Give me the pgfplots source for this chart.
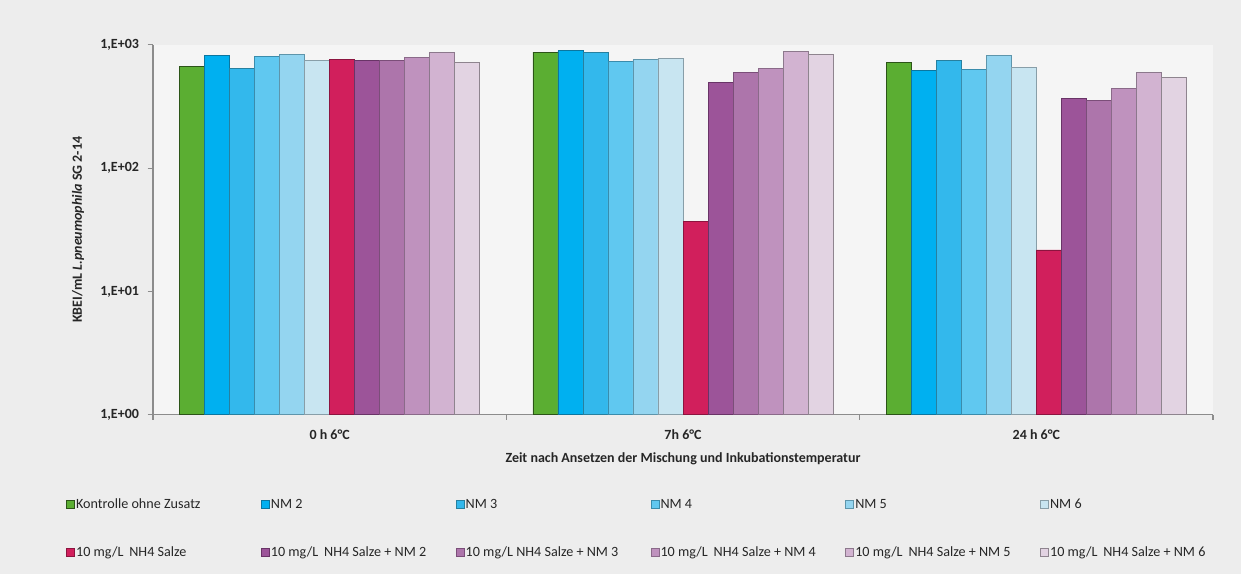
\documentclass[border=0pt]{standalone}
\usepackage{fontspec}
\setmainfont{Carlito}
\usepackage{pgfplots}
\pgfplotsset{compat=1.18}

% page and plot area backgrounds
\definecolor{bgout}{HTML}{EDEDED}
\definecolor{bgplot}{HTML}{F5F5F5}
\definecolor{axgray}{HTML}{8C8C8C}
% series colours: fill / edge
\definecolor{f1}{HTML}{5BAE32}\definecolor{e1}{HTML}{2C5418}
\definecolor{f2}{HTML}{00B0F0}\definecolor{e2}{HTML}{0B76A0}
\definecolor{f3}{HTML}{33B8EC}\definecolor{e3}{HTML}{27809F}
\definecolor{f4}{HTML}{60C8F0}\definecolor{e4}{HTML}{3A8CAC}
\definecolor{f5}{HTML}{94D5F0}\definecolor{e5}{HTML}{5E95AB}
\definecolor{f6}{HTML}{C8E5F1}\definecolor{e6}{HTML}{889EA8}
\definecolor{f7}{HTML}{D11F5C}\definecolor{e7}{HTML}{8C143F}
\definecolor{f8}{HTML}{9C5499}\definecolor{e8}{HTML}{693467}
\definecolor{f9}{HTML}{AD75AB}\definecolor{e9}{HTML}{7B4E79}
\definecolor{f10}{HTML}{BF92BE}\definecolor{e10}{HTML}{8A6A89}
\definecolor{f11}{HTML}{D2B3D1}\definecolor{e11}{HTML}{8C788C}
\definecolor{f12}{HTML}{E2D3E2}\definecolor{e12}{HTML}{8E848E}

\pgfplotsset{
  sq/.style n args={2}{fill=#1, draw=#2, line width=0.6pt,
    legend image code/.code={\draw[fill=#1,draw=#2,line width=0.5pt] (0pt,-3pt) rectangle (6pt,3pt);}},
}
\newcommand{\legtext}[1]{\addlegendentry{\makebox[137.6pt][l]{#1}}}
\newcommand{\gap}{\kern2pt}

\begin{document}
\begin{tikzpicture}[x=1pt,y=1pt]
\useasboundingbox (0,0) rectangle (930.75,430.5);
\fill[bgout] (0,0) rectangle (930.75,430.5);
\begin{axis}[
  at={(114.75pt,119.5pt)}, anchor=south west,
  scale only axis, width=795pt, height=277.3pt,
  ymode=log, ymin=1, ymax=1000,
  xmin=-0.5, xmax=2.5,
  ybar=0pt, bar width=0.0708,
  axis background/.style={fill=bgplot},
  axis x line=bottom, axis y line=left,
  axis line style={draw=axgray, line width=0.8pt, -},
  ytick={1,10,100,1000},
  yticklabels={{1,E+00},{1,E+01},{1,E+02},{1,E+03}},
  ytick style={draw=axgray, line width=0.8pt},
  yminorticks=false,
  tick align=outside, major tick length=4pt,
  xtick={0,1,2},
  xticklabels={0 h 6°C, 7h 6°C, 24 h 6°C},
  xtick style={draw=none},
  extra x ticks={-0.5,0.5,1.5,2.5},
  extra x tick labels={},
  extra x tick style={xtick style={draw=axgray, line width=0.8pt}, major tick length=4pt},
  ticklabel style={font=\bfseries\fontsize{10.5}{12}\selectfont, text=black!85},
  yticklabel style={xshift=-3pt},
  xticklabel style={yshift=-4pt},
  xlabel={Zeit nach Ansetzen der Mischung und Inkubationstemperatur},
  ylabel={KBEI/mL \textit{L.pneumophila} SG 2-14},
  every axis x label/.style={at={(axis description cs:0.5,-0.1190)}, anchor=center,
    font=\bfseries\fontsize{10.5}{12}\selectfont, text=black!85},
  every axis y label/.style={at={(axis description cs:-0.0707,0.5)}, anchor=center, rotate=90,
    font=\bfseries\fontsize{10.5}{12}\selectfont, text=black!85},
  legend columns=6,
  legend cell align=left,
  legend style={draw=none, fill=none, at={(axis description cs:-0.086,-0.216)}, anchor=north west,
    font=\fontsize{10.6}{13}\selectfont, text=black!85, row sep=24.8pt,
    nodes={inner sep=1pt}},
]
\addplot[sq={f1}{e1}]   coordinates {(0,668) (1,874) (2,724)};  \legtext{Kontrolle ohne Zusatz}
\addplot[sq={f2}{e2}]   coordinates {(0,820) (1,895) (2,617)};  \legtext{NM 2}
\addplot[sq={f3}{e3}]   coordinates {(0,640) (1,863) (2,753)};  \legtext{NM 3}
\addplot[sq={f4}{e4}]   coordinates {(0,811) (1,733) (2,628)};  \legtext{NM 4}
\addplot[sq={f5}{e5}]   coordinates {(0,831) (1,757) (2,815)};  \legtext{NM 5}
\addplot[sq={f6}{e6}]   coordinates {(0,753) (1,782) (2,656)};  \legtext{NM 6}
\addplot[sq={f7}{e7}]   coordinates {(0,757) (1,36.9) (2,21.7)}; \legtext{10 mg/L \gap NH4 Salze}
\addplot[sq={f8}{e8}]   coordinates {(0,747) (1,492) (2,365)};  \legtext{10 mg/L \gap NH4 Salze + NM 2}
\addplot[sq={f9}{e9}]   coordinates {(0,747) (1,597) (2,356)};  \legtext{10 mg/L NH4 Salze + NM 3}
\addplot[sq={f10}{e10}] coordinates {(0,786) (1,640) (2,446)};  \legtext{10 mg/L \gap NH4 Salze + NM 4}
\addplot[sq={f11}{e11}] coordinates {(0,867) (1,879) (2,597)};  \legtext{10 mg/L \gap NH4 Salze + NM 5}
\addplot[sq={f12}{e12}] coordinates {(0,719) (1,836) (2,541)};  \legtext{10 mg/L \gap NH4 Salze + NM 6}
\end{axis}
\end{tikzpicture}
\end{document}
